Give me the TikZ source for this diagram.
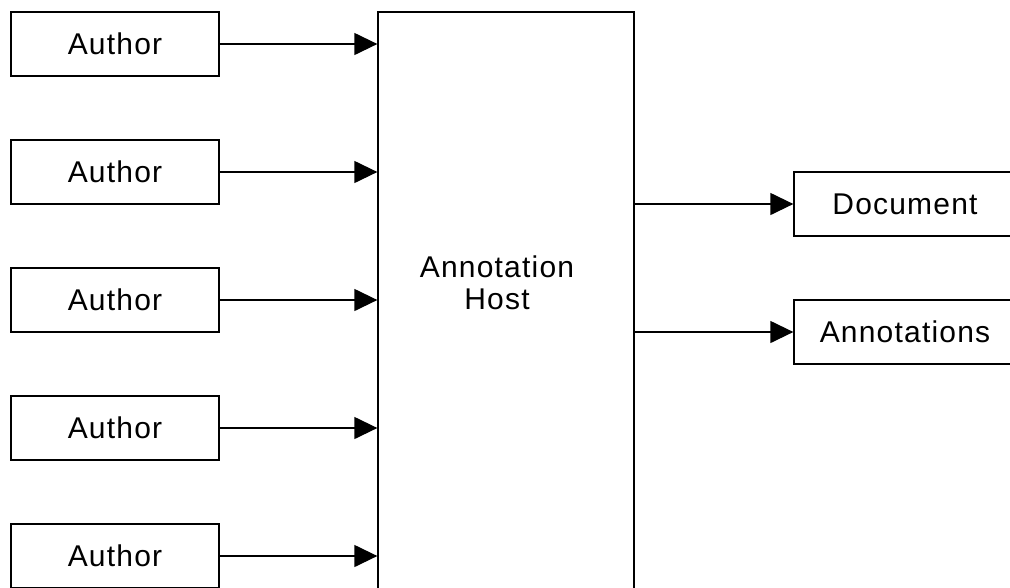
\documentclass[tikz,border=0pt]{standalone}
\usepackage{fontspec}
\setmainfont[LetterSpace=4]{Liberation Sans}
\usetikzlibrary{arrows.meta}
\tikzset{
  box/.style={draw, line width=1.3pt, rectangle, inner sep=0pt, font=\fontsize{30}{32}\selectfont},
  authorbox/.style={box, minimum width=208pt, minimum height=64pt},
  outbox/.style={box, minimum width=222pt, minimum height=64pt},
  conn/.style={line width=1.3pt, -{Triangle[length=23pt,width=22pt]}},
  lbl/.style={font=\fontsize{30}{32}\selectfont, align=center, inner sep=0pt}
}
\begin{document}
\begin{tikzpicture}[x=1pt,y=-1pt]
\clip (0,0) rectangle (1010,587);
\fill[white] (0,0) rectangle (1010,587);
\node[box, minimum width=256pt, minimum height=608pt] (host) at (506,316) {};
\node[lbl] (hostlabel) at (497,283) {Annotation\\Host};
\foreach \i in {0,...,4} {
  \node[authorbox] (a\i) at (115,{44+128*\i}) {Author};
  \draw[conn] (a\i.east) -- (a\i.east -| host.west);
}
\node[outbox] (doc) at (905,204) {Document};
\node[outbox] (ann) at (905,332) {Annotations};
\draw[conn] (doc.west -| host.east) -- (doc.west);
\draw[conn] (ann.west -| host.east) -- (ann.west);
\end{tikzpicture}
\end{document}
